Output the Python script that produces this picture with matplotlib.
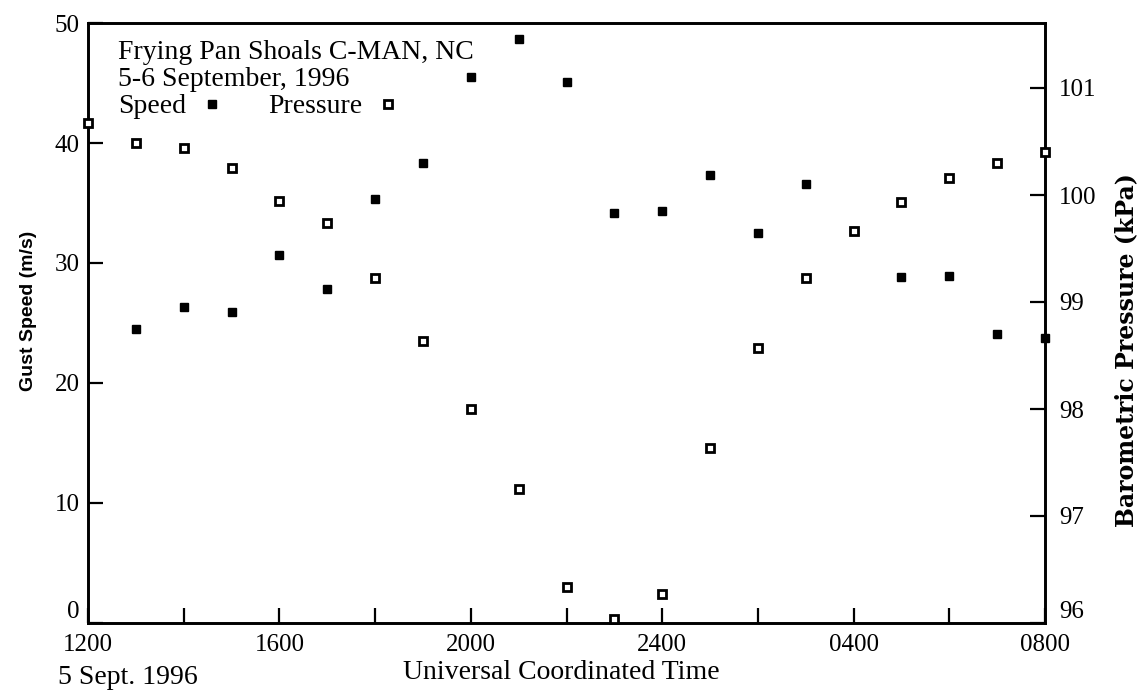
# -*- coding: utf-8 -*-
"""
Gust speed and barometric pressure at Frying Pan Shoals C-MAN, NC,
5-6 September 1996 (hourly values, read off the original figure).
"""

import numpy as np
import matplotlib
matplotlib.use('Agg')
import matplotlib.pyplot as plt
from matplotlib.lines import Line2D

####################
# DATA
####################

# Hours since 1200 UTC on 5 Sept. 1996
hours = list(range(0, 21))

# Gust speed (m/s); no value plotted at 1200
speed = [np.nan, 24.5, 26.3, 25.9, 30.7, 27.8, 35.3, 38.3, 45.5, 48.7, 45.1,
         34.2, 34.3, 37.3, 32.5, 36.6, 32.7, 28.8, 28.9, 24.1, 23.75]

# Barometric pressure (kPa)
pressure = [100.67, 100.49, 100.44, 100.25, 99.94, 99.74, 99.22, 98.64,
            98.00, 97.25, 96.34, 96.04, 96.27, 97.64, 98.57, 99.22, 99.66,
            99.93, 100.16, 100.30, 100.40]

xtick_pos = [0, 4, 8, 12, 16, 20]
xtick_labels = ['1200', '1600', '2000', '2400', '0400', '0800']
xminor_pos = [2, 6, 10, 14, 18]

####################
# STYLE
####################
plt.rcParams['font.family'] = ['Liberation Serif', 'DejaVu Serif']
plt.rcParams['font.size'] = 18
txt_size = 20
lw = 1.9

fig = plt.figure(figsize=(11.46, 6.96), dpi=100)
ax = fig.add_axes([88/1146, 1 - 623/696, (1045 - 88)/1146, 600/696])
ax2 = ax.twinx()

# Speed: filled squares, pressure: hollow squares
ax.plot(hours, speed, linestyle='none', marker='s', markersize=5.5,
        color='black', clip_on=False, zorder=5)
ax2.plot(hours, pressure, linestyle='none', marker='s', markersize=6,
         markerfacecolor='white', markeredgecolor='black',
         markeredgewidth=2, clip_on=False, zorder=5)

# Axis limits
ax.set_xlim(0, 20)
ax.set_ylim(0, 50)
ax2.set_ylim(96, 96 + 600/107)

# Ticks
ax.set_xticks(xtick_pos)
ax.set_xticklabels(xtick_labels)
ax.set_xticks(xminor_pos, minor=True)
ax.set_yticks([0, 10, 20, 30, 40, 50])
ax2.set_yticks([96, 97, 98, 99, 100, 101])
ax.tick_params(axis='both', which='both', direction='in', length=11,
               width=1.6, top=False, right=False, pad=6)
ax.tick_params(axis='x', pad=8)
ax2.tick_params(axis='y', direction='in', length=11, width=1.6, pad=10)

# lift the bottom labels off the x axis
ax.yaxis.get_major_ticks()[0].label1.set_verticalalignment('bottom')
ax2.yaxis.get_major_ticks()[0].label2.set_verticalalignment('bottom')

for a in (ax, ax2):
    for s in a.spines.values():
        s.set_linewidth(lw)

# Axis labels
ax.set_xlabel('Universal Coordinated Time', fontsize=txt_size)
ax.xaxis.set_label_coords(0.495, -0.062)
ax.set_ylabel('Gust Speed (m/s)', family='Liberation Sans',
              weight='bold', fontsize=14)
ax.yaxis.set_label_coords(-0.053, 0.52)
ax2.set_ylabel('Barometric Pressure (kPa)', family='DejaVu Serif',
               weight='bold', fontsize=17)
ax2.yaxis.set_label_coords(1.072, 0.455)
fig.text(58/1146, 1 - 678/696, '5 Sept. 1996', ha='left', va='center',
         fontsize=txt_size)

# Title block and key
ax.text(30/957, 1 - 17/600, 'Frying Pan Shoals C-MAN, NC\n5-6 September, 1996',
        transform=ax.transAxes, ha='left', va='top', linespacing=1.1,
        fontsize=txt_size)
handles = [Line2D([], [], linestyle='none', marker='s', markersize=5.5,
                  color='black'),
           Line2D([], [], linestyle='none', marker='s', markersize=6,
                  markerfacecolor='white', markeredgecolor='black',
                  markeredgewidth=2)]
ax.legend(handles, ['Speed', 'Pressure'], ncol=2, markerfirst=False,
          frameon=False, loc='upper left', fontsize=txt_size,
          bbox_to_anchor=(30/957, 1 - 71/600), handlelength=1.2,
          handletextpad=0.35, columnspacing=1.4, borderaxespad=0,
          borderpad=0)

fig.savefig('out.png', dpi=100)
